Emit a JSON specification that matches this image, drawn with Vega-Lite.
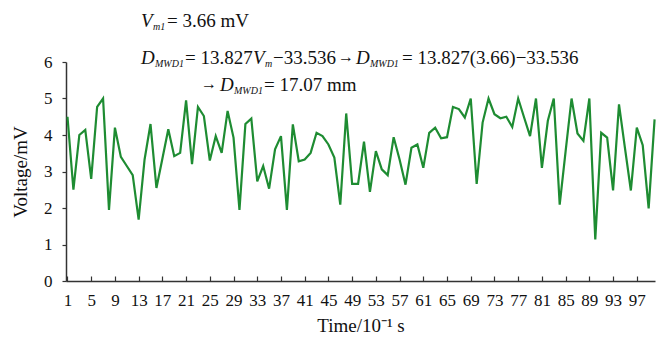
{
  "$schema": "https://vega.github.io/schema/vega-lite/v6.json",
  "width": 589,
  "height": 219,
  "autosize": {"type": "none"},
  "padding": {"left": 66, "top": 62, "right": 2, "bottom": 64},
  "background": "white",
  "config": {
    "view": {"stroke": null},
    "font": "Liberation Serif",
    "axis": {
      "grid": false,
      "domainColor": "#333333",
      "domainWidth": 1.5,
      "tickColor": "#333333",
      "tickWidth": 1.2,
      "labelFont": "Liberation Serif",
      "labelFontSize": 17,
      "labelColor": "#111111",
      "titleFont": "Liberation Serif",
      "titleFontSize": 19,
      "titleFontWeight": "normal",
      "titleColor": "#111111"
    }
  },
  "datasets": {
    "series": [
      {"t": 1, "v": 4.50}, {"t": 2, "v": 2.50}, {"t": 3, "v": 4.00}, {"t": 4, "v": 4.14}, {"t": 5, "v": 2.80},
      {"t": 6, "v": 4.77}, {"t": 7, "v": 5.00}, {"t": 8, "v": 1.95}, {"t": 9, "v": 4.20}, {"t": 10, "v": 3.40},
      {"t": 11, "v": 3.15}, {"t": 12, "v": 2.90}, {"t": 13, "v": 1.68}, {"t": 14, "v": 3.33}, {"t": 15, "v": 4.30},
      {"t": 16, "v": 2.55}, {"t": 17, "v": 3.35}, {"t": 18, "v": 4.16}, {"t": 19, "v": 3.42}, {"t": 20, "v": 3.51},
      {"t": 21, "v": 4.95}, {"t": 22, "v": 3.20}, {"t": 23, "v": 4.77}, {"t": 24, "v": 4.52}, {"t": 25, "v": 3.30},
      {"t": 26, "v": 3.97}, {"t": 27, "v": 3.51}, {"t": 28, "v": 4.66}, {"t": 29, "v": 3.93}, {"t": 30, "v": 1.95},
      {"t": 31, "v": 4.30}, {"t": 32, "v": 4.45}, {"t": 33, "v": 2.73}, {"t": 34, "v": 3.15}, {"t": 35, "v": 2.53},
      {"t": 36, "v": 3.61}, {"t": 37, "v": 3.97}, {"t": 38, "v": 1.95}, {"t": 39, "v": 4.29}, {"t": 40, "v": 3.28},
      {"t": 41, "v": 3.33}, {"t": 42, "v": 3.51}, {"t": 43, "v": 4.06}, {"t": 44, "v": 3.97}, {"t": 45, "v": 3.74},
      {"t": 46, "v": 3.38}, {"t": 47, "v": 2.09}, {"t": 48, "v": 4.59}, {"t": 49, "v": 2.66}, {"t": 50, "v": 2.66},
      {"t": 51, "v": 3.82}, {"t": 52, "v": 2.44}, {"t": 53, "v": 3.56}, {"t": 54, "v": 3.06}, {"t": 55, "v": 2.90},
      {"t": 56, "v": 3.94}, {"t": 57, "v": 3.33}, {"t": 58, "v": 2.64}, {"t": 59, "v": 3.65}, {"t": 60, "v": 3.74},
      {"t": 61, "v": 3.10}, {"t": 62, "v": 4.06}, {"t": 63, "v": 4.20}, {"t": 64, "v": 3.91}, {"t": 65, "v": 3.94},
      {"t": 66, "v": 4.77}, {"t": 67, "v": 4.71}, {"t": 68, "v": 4.48}, {"t": 69, "v": 5.00}, {"t": 70, "v": 2.66},
      {"t": 71, "v": 4.34}, {"t": 72, "v": 5.00}, {"t": 73, "v": 4.57}, {"t": 74, "v": 4.46}, {"t": 75, "v": 4.50},
      {"t": 76, "v": 4.22}, {"t": 77, "v": 5.00}, {"t": 78, "v": 4.48}, {"t": 79, "v": 3.97}, {"t": 80, "v": 5.00},
      {"t": 81, "v": 3.10}, {"t": 82, "v": 4.39}, {"t": 83, "v": 5.00}, {"t": 84, "v": 2.09}, {"t": 85, "v": 3.56},
      {"t": 86, "v": 5.00}, {"t": 87, "v": 4.04}, {"t": 88, "v": 3.84}, {"t": 89, "v": 5.00}, {"t": 90, "v": 1.14},
      {"t": 91, "v": 4.06}, {"t": 92, "v": 3.93}, {"t": 93, "v": 2.48}, {"t": 94, "v": 4.84}, {"t": 95, "v": 3.65},
      {"t": 96, "v": 2.48}, {"t": 97, "v": 4.20}, {"t": 98, "v": 3.72}, {"t": 99, "v": 1.99}, {"t": 100, "v": 4.43}
    ],
    "annRegular": [
      {"t": 17.78, "v": 6.96, "label": "= 3.66 mV"},
      {"t": 20.81, "v": 5.95, "label": "= 13.827"},
      {"t": 35.65, "v": 5.95, "label": "−33.536"},
      {"t": 57.41, "v": 5.95, "label": "= 13.827(3.66)−33.536"},
      {"t": 34.14, "v": 5.21, "label": "= 17.07 mm"}
    ],
    "annArrow": [
      {"t": 46.6, "v": 6.0, "label": "→"},
      {"t": 23.5, "v": 5.26, "label": "→"}
    ],
    "annItalic": [
      {"t": 13.39, "v": 6.96, "label": "V"},
      {"t": 13.39, "v": 5.95, "label": "D"},
      {"t": 32.28, "v": 5.95, "label": "V"},
      {"t": 49.65, "v": 5.95, "label": "D"},
      {"t": 26.72, "v": 5.21, "label": "D"}
    ],
    "annSub": [
      {"t": 15.42, "v": 6.88, "label": "m1"},
      {"t": 15.76, "v": 5.86, "label": "MWD1"},
      {"t": 34.31, "v": 5.86, "label": "m"},
      {"t": 52.01, "v": 5.86, "label": "MWD1"},
      {"t": 29.08, "v": 5.12, "label": "MWD1"}
    ]
  },
  "encoding": {
    "x": {
      "field": "t", "type": "quantitative",
      "scale": {"domain": [0.75, 100.07], "nice": false, "zero": false},
      "axis": {
        "values": [1, 5, 9, 13, 17, 21, 25, 29, 33, 37, 41, 45, 49, 53, 57, 61, 65, 69, 73, 77, 81, 85, 89, 93, 97],
        "tickSize": -5,
        "labelPadding": 16,
        "labelFlush": false,
        "labelOverlap": false,
        "title": "Time/10⁻¹ s",
        "titlePadding": 8
      }
    },
    "y": {
      "field": "v", "type": "quantitative",
      "scale": {"domain": [0, 6], "nice": false},
      "axis": {
        "values": [0, 1, 2, 3, 4, 5, 6],
        "tickSize": 4,
        "labelPadding": 10,
        "title": "Voltage/mV",
        "titlePadding": 13
      }
    }
  },
  "layer": [
    {
      "data": {"name": "series"},
      "mark": {"type": "line", "color": "#1e8c32", "strokeWidth": 2.2}
    },
    {
      "data": {"name": "annRegular"},
      "mark": {"type": "text", "align": "left", "baseline": "alphabetic", "font": "Liberation Serif", "fontSize": 19, "color": "#111111"},
      "encoding": {"text": {"field": "label"}}
    },
    {
      "data": {"name": "annArrow"},
      "mark": {"type": "text", "align": "left", "baseline": "alphabetic", "font": "Liberation Serif", "fontSize": 16, "color": "#111111"},
      "encoding": {"text": {"field": "label"}}
    },
    {
      "data": {"name": "annItalic"},
      "mark": {"type": "text", "align": "left", "baseline": "alphabetic", "font": "Liberation Serif", "fontSize": 19, "fontStyle": "italic", "color": "#111111"},
      "encoding": {"text": {"field": "label"}}
    },
    {
      "data": {"name": "annSub"},
      "mark": {"type": "text", "align": "left", "baseline": "alphabetic", "font": "Liberation Serif", "fontSize": 10, "fontStyle": "italic", "color": "#111111"},
      "encoding": {"text": {"field": "label"}}
    }
  ]
}
